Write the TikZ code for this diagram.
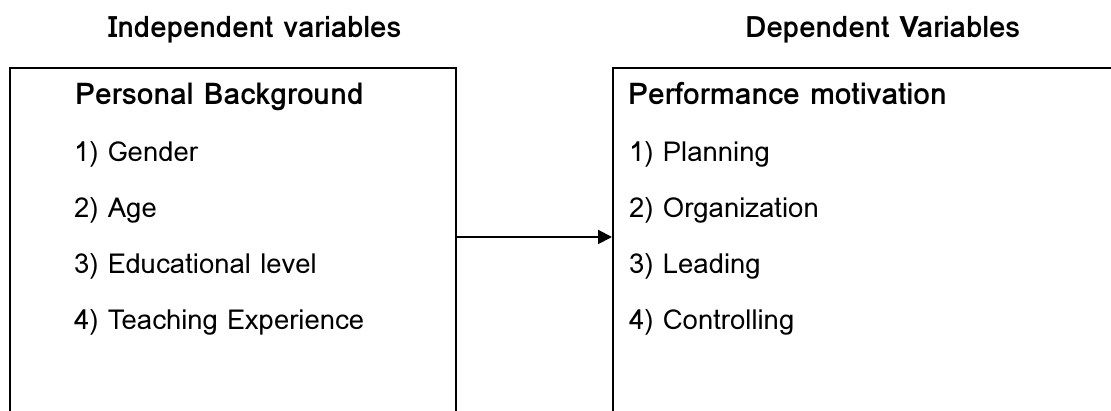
\documentclass[tikz,border=0pt]{standalone}
\usepackage{fontspec}
\setmainfont{Loma}
\usetikzlibrary{arrows.meta}
\begin{document}
\begin{tikzpicture}[x=1pt,y=1pt,
  boxframe/.style={draw=black, line width=2pt, inner sep=0pt},
  titletext/.style={anchor=base west, inner sep=0pt, font=\fontsize{29.5}{34}\selectfont\bfseries},
  headtext/.style={anchor=base west, inner sep=0pt, font=\fontsize{30}{34}\selectfont\bfseries},
  itemtext/.style={anchor=base west, inner sep=0pt, font=\fontsize{27.5}{32}\selectfont},
  link/.style={line width=2pt, -{Triangle[length=14pt,width=14pt]}}]
\useasboundingbox (0,0) rectangle (1111,411);
% boxes (bottom edge lies below the page)
\node[boxframe, minimum width=446pt, minimum height=373pt] (L) at (233,156.5) {};
\node[boxframe, minimum width=530pt, minimum height=373pt] (R) at (878,156.5) {};
% column titles
\node[titletext] (tL) at (108,373) {Independent variables};
\node[titletext] (tR) at (745,373) {Dependent Variables};
% headings
\node[headtext] (hL) at (75,306) {Personal Background};
\node[headtext] (hR) at (628,306) {Performance motivation};
% items
\node[itemtext] (l1) at (74,249) {1) Gender};
\node[itemtext] (l2) at (74,193) {2) Age};
\node[itemtext] (l3) at (74,137) {3) Educational level};
\node[itemtext] (l4) at (74,81) {4) Teaching Experience};
\node[itemtext] (r1) at (629,249) {1) Planning};
\node[itemtext] (r2) at (629,193) {2) Organization};
\node[itemtext] (r3) at (629,137) {3) Leading};
\node[itemtext] (r4) at (629,81) {4) Controlling};
% arrow
\coordinate (ay) at (0,174);
\draw[link] (L.east |- ay) -- (R.west |- ay);
\end{tikzpicture}
\end{document}
